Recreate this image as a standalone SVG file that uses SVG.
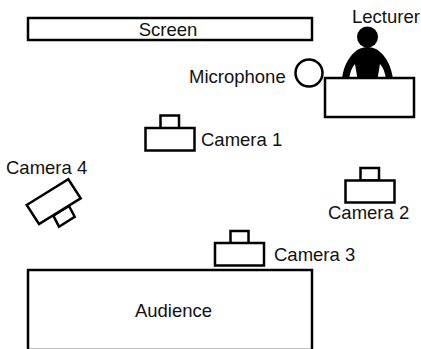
<svg xmlns="http://www.w3.org/2000/svg" width="421" height="349" viewBox="0 0 421 349">
<style>
.s{fill:#fff;stroke:#000;stroke-width:2.5}
text{font-family:"Liberation Sans",Arial,sans-serif;font-size:18.500px;fill:#111}
</style>
<rect width="421" height="349" fill="#fff"/>
<g id="screen"><rect class="s" x="28" y="18" width="284" height="22"/><text x="168" y="35.500" text-anchor="middle">Screen</text></g>
<g id="lecturer"><text x="352" y="22.500">Lecturer</text><circle cx="367.500" cy="37" r="10.500" fill="#000"/>
<path d="M342 79C344 62 354 47 367.500 47C381 47 391 62 393 79H386C385 72 383 67 380 64L377.500 79H357.500L355 64C352 67 350 72 349 79Z" fill="#000"/></g>
<g id="microphone"><text x="189" y="83">Microphone</text><circle class="s" cx="309" cy="73" r="13.500"/></g>
<g id="desk"><rect class="s" x="325" y="78" width="89" height="39"/></g>
<g id="camera1"><rect class="s" x="160.500" y="115.500" width="18.500" height="13"/><rect class="s" x="145.500" y="128" width="49" height="22.500"/><text x="201" y="145.500">Camera 1</text></g>
<g id="camera2"><rect class="s" x="360.500" y="168" width="18.500" height="12.500"/><rect class="s" x="345.500" y="180.500" width="49" height="22"/><text x="328" y="219">Camera 2</text></g>
<g id="camera3"><rect class="s" x="230.500" y="231" width="18" height="12.500"/><rect class="s" x="215" y="243" width="49" height="22.500"/><text x="274" y="260.500">Camera 3</text></g>
<g id="camera4"><text x="6" y="174">Camera 4</text><polygon class="s" points="53.300,215.700 69,206 74.700,216.700 59,226.700"/><polygon class="s" points="26.700,205 68.300,179.300 80.700,198.300 39,224"/></g>
<g id="audience"><rect class="s" x="28" y="270" width="284" height="80"/><text x="173.500" y="316.500" text-anchor="middle">Audience</text></g>
<g id="connectors"></g>
</svg>
